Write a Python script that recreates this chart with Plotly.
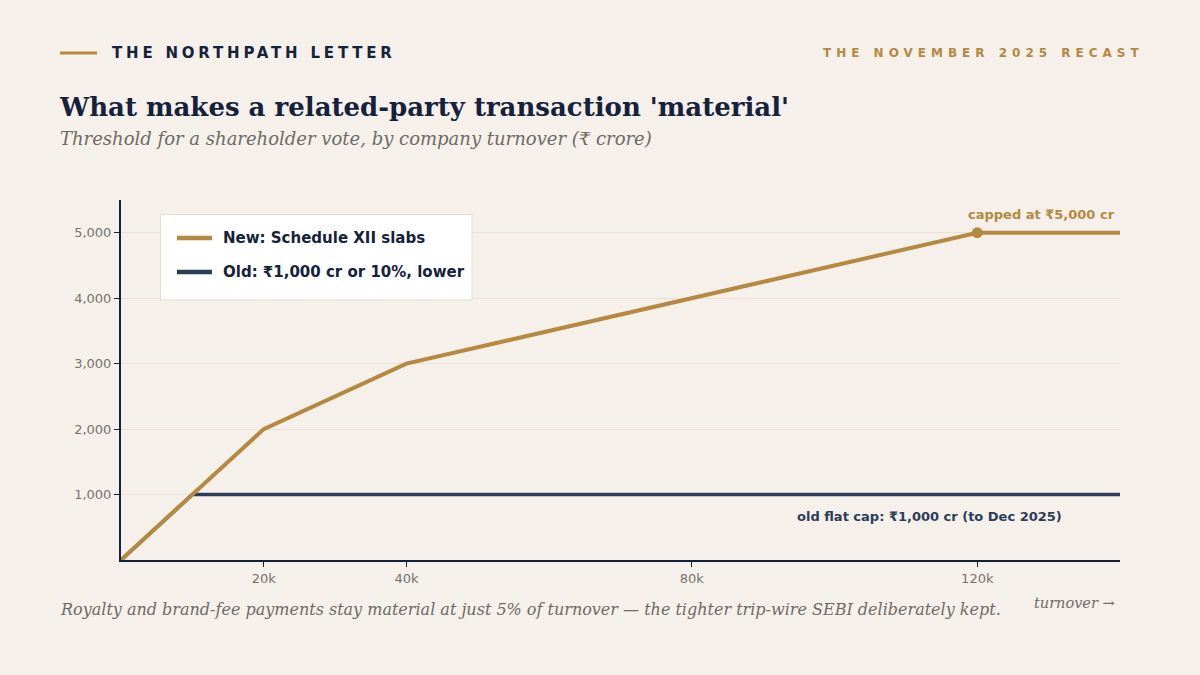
import plotly.graph_objects as go

# ---- data ----
turnover_new = [0, 20000, 40000, 120000, 140000]
threshold_new = [0, 2000, 3000, 5000, 5000]
turnover_old = [0, 10000, 140000]
threshold_old = [0, 1000, 1000]
cap_point_x = [120000]
cap_point_y = [5000]
x_tickvals = [20000, 40000, 80000, 120000]
x_ticktext = ["20k", "40k", "80k", "120k"]
y_tickvals = [1000, 2000, 3000, 4000, 5000]
y_ticktext = ["1,000", "2,000", "3,000", "4,000", "5,000"]
legend_names = ["New: Schedule XII slabs", "Old: ₹1,000 cr or 10%, lower"]

GOLD = "#b5893f"
NAVY = "#2c3d5a"
INK = "#15223b"
GRAY = "#6e6a66"
TICKGRAY = "#76726d"
BG = "#f5f0ea"

W, H = 1200, 675
L, R, T, B = 121, 1120, 200, 560


def px(x):
    return (x - L) / (R - L)


def py(y):
    return (B - y) / (B - T)


fig = go.Figure()
fig.add_trace(go.Scatter(
    x=turnover_old, y=threshold_old, mode="lines",
    line=dict(color=NAVY, width=3.5), name=legend_names[1], showlegend=False,
))
fig.add_trace(go.Scatter(
    x=turnover_new, y=threshold_new, mode="lines",
    line=dict(color=GOLD, width=4), name=legend_names[0], showlegend=False,
))
fig.add_trace(go.Scatter(
    x=cap_point_x, y=cap_point_y, mode="markers",
    marker=dict(color=GOLD, size=11), showlegend=False, hoverinfo="skip",
))

ann = []
# header
ann.append(dict(x=px(110), y=py(53), xref="paper", yref="paper", xanchor="left", yanchor="middle",
                text='<span style="letter-spacing:3.8px">THE NORTHPATH LETTER</span>', showarrow=False,
                font=dict(family="DejaVu Sans", size=15, color=INK, weight="bold")))
ann.append(dict(x=px(1146), y=py(53), xref="paper", yref="paper", xanchor="right", yanchor="middle",
                text='<span style="letter-spacing:5px">THE NOVEMBER 2025 RECAST</span>',
                showarrow=False,
                font=dict(family="DejaVu Sans", size=12, color=GOLD, weight="bold")))
# title + subtitle
ann.append(dict(x=px(57), y=py(107), xref="paper", yref="paper", xanchor="left", yanchor="middle",
                text="What makes a related-party transaction 'material'", showarrow=False,
                font=dict(family="DejaVu Serif", size=26, color=INK, weight="bold")))
ann.append(dict(x=px(58), y=py(139), xref="paper", yref="paper", xanchor="left", yanchor="middle",
                text="Threshold for a shareholder vote, by company turnover (₹ crore)", showarrow=False,
                font=dict(family="DejaVu Serif", size=18, color=GRAY, style="italic")))
# footer
ann.append(dict(x=px(58), y=py(609), xref="paper", yref="paper", xanchor="left", yanchor="middle",
                text="Royalty and brand-fee payments stay material at just 5% of turnover — the tighter trip-wire SEBI deliberately kept.",
                showarrow=False,
                font=dict(family="DejaVu Serif", size=16, color=GRAY, style="italic")))
ann.append(dict(x=px(1117), y=py(603), xref="paper", yref="paper", xanchor="right", yanchor="middle",
                text="turnover →", showarrow=False,
                font=dict(family="DejaVu Serif", size=14.5, color=GRAY, style="italic")))
# data annotations
ann.append(dict(x=140000, y=5000, xref="x", yref="y", xanchor="right", yanchor="bottom",
                xshift=-3, yshift=9, text="capped at ₹5,000 cr", showarrow=False,
                font=dict(family="DejaVu Sans", size=13, color=GOLD, weight="bold")))
ann.append(dict(x=140000, y=1000, xref="x", yref="y", xanchor="right", yanchor="top",
                xshift=-56, yshift=-12, text="old flat cap: ₹1,000 cr (to Dec 2025)", showarrow=False,
                font=dict(family="DejaVu Sans", size=13, color=NAVY, weight="bold")))

# manual legend
leg_rows = [238, 272]
leg_colors = [GOLD, NAVY]
for name, row in zip(legend_names, leg_rows):
    ann.append(dict(x=px(221), y=py(row), xref="paper", yref="paper", xanchor="left", yanchor="middle",
                    text=name, showarrow=False,
                    font=dict(family="DejaVu Sans", size=15, color=INK, weight="bold")))

shapes = [dict(type="line", xref="paper", yref="paper", x0=px(60), x1=px(97), y0=py(53), y1=py(53),
               line=dict(color=GOLD, width=3))]
shapes.append(dict(type="rect", xref="paper", yref="paper", x0=px(160.5), x1=px(472), y0=py(300), y1=py(214.5),
                   fillcolor="#ffffff", line=dict(color="#e6ddcc", width=1), layer="above"))
for c, row in zip(leg_colors, leg_rows):
    shapes.append(dict(type="line", xref="paper", yref="paper", x0=px(177), x1=px(212), y0=py(row), y1=py(row),
                       line=dict(color=c, width=4.5), layer="above"))

fig.update_layout(
    width=W, height=H,
    margin=dict(l=L, r=W - R, t=T, b=H - B),
    paper_bgcolor=BG, plot_bgcolor=BG,
    font=dict(family="DejaVu Sans", color=TICKGRAY, size=13),
    annotations=ann, shapes=shapes, showlegend=False,
    xaxis=dict(range=[0, 140000], tickvals=x_tickvals, ticktext=x_ticktext,
               showgrid=False, zeroline=False, showline=True, linecolor=INK, linewidth=2,
               ticks="outside", ticklen=5, tickcolor=INK, tickwidth=1,
               tickfont=dict(size=13, color=TICKGRAY)),
    yaxis=dict(range=[0, 5500], tickvals=y_tickvals, ticktext=y_ticktext,
               showgrid=True, gridcolor="#e8e1d4", gridwidth=1, zeroline=False,
               showline=True, linecolor=INK, linewidth=2,
               ticks="outside", ticklen=5, tickcolor=INK, tickwidth=1,
               tickfont=dict(size=13, color=TICKGRAY)),
)

fig.write_html("out.html")
